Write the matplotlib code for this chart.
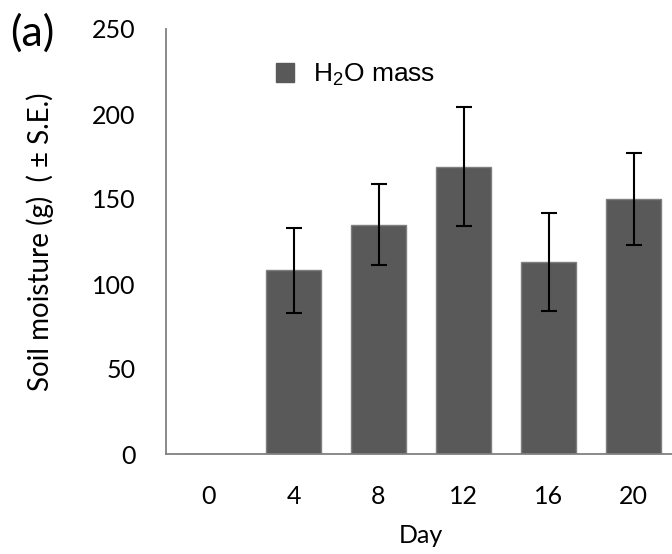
import matplotlib.pyplot as plt
from matplotlib.patches import Rectangle

plt.rcParams['font.family'] = ['Lato', 'DejaVu Sans']
plt.rcParams['mathtext.default'] = 'regular'

days = ['0', '4', '8', '12', '16', '20']
h2o_mass = [0, 108, 135, 169, 113, 150]
h2o_se = [0, 25, 24, 35, 29, 27]
yticks = [0, 50, 100, 150, 200, 250]

fig = plt.figure(figsize=(6.72, 5.54), dpi=100)
ax = fig.add_axes([166 / 672, 100 / 554, 510 / 672, 425 / 554])

x = list(range(len(days)))
err = [e if e > 0 else float('nan') for e in h2o_se]
ax.bar(x, h2o_mass, width=0.65, color='#595959', edgecolor='#7f7f7f', linewidth=1.0, zorder=2)
ax.errorbar(x, h2o_mass, yerr=err, fmt='none', ecolor='black', elinewidth=1.5,
            capsize=6, capthick=1.5, zorder=3)

ax.set_xlim(-0.5, len(days) - 0.5)
ax.set_ylim(0, 250)
ax.set_xticks(x)
ax.set_xticklabels(days)
ax.set_yticks(yticks)
ax.tick_params(axis='both', length=0, labelsize=18)
ax.tick_params(axis='x', pad=22)
ax.tick_params(axis='y', pad=22)

for s in ['top', 'right']:
    ax.spines[s].set_visible(False)
ax.spines['left'].set_color('#808080')
ax.spines['bottom'].set_color('#808080')
ax.spines['left'].set_linewidth(1.3)
ax.spines['bottom'].set_linewidth(1.3)

ax.set_xlabel('Day', fontsize=18, labelpad=12)
ax.set_ylabel('Soil moisture (g)  ( ± S.E.)', fontsize=20, labelpad=27)

handle = Rectangle((0, 0), 1, 1, facecolor='#595959', edgecolor='#595959')
fig.legend([handle], [r'H$_2$O mass'], loc='center left',
           bbox_to_anchor=(252 / 672, 1 - 75 / 554), frameon=False,
           prop={'family': 'Liberation Sans', 'size': 19},
           handlelength=0.7, handleheight=0.7, handletextpad=0.7)

fig.text(10 / 672, 1 - 33 / 554, '(a)', fontsize=31, va='center', ha='left')

fig.savefig('out.png', dpi=100)
